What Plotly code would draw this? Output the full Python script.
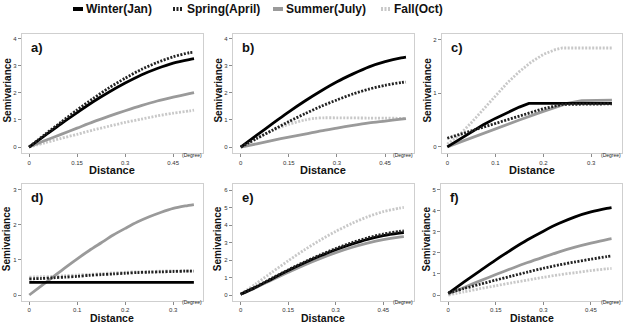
import plotly.graph_objects as go

# ---------------- data ----------------
series_names = ["Winter(Jan)", "Spring(April)", "Summer(July)", "Fall(Oct)"]

dist_long = [0, 0.05, 0.1, 0.15, 0.2, 0.25, 0.3, 0.35, 0.4, 0.45, 0.5, 0.515]

# panel a
winter_a = [0, 0.43, 0.86, 1.27, 1.67, 2.03, 2.36, 2.66, 2.90, 3.10, 3.23, 3.26]
spring_a = [0, 0.47, 0.92, 1.37, 1.79, 2.19, 2.54, 2.86, 3.12, 3.33, 3.48, 3.50]
summer_a = [0, 0.24, 0.47, 0.70, 0.93, 1.14, 1.34, 1.53, 1.70, 1.84, 1.97, 2.01]
fall_a = [0, 0.16, 0.32, 0.47, 0.63, 0.77, 0.91, 1.03, 1.15, 1.25, 1.33, 1.36]

# panel b
winter_b = [0, 0.44, 0.87, 1.30, 1.70, 2.07, 2.41, 2.70, 2.96, 3.15, 3.29, 3.32]
spring_b = [0, 0.32, 0.63, 0.94, 1.23, 1.50, 1.74, 1.96, 2.14, 2.28, 2.38, 2.40]
summer_b = [0, 0.12, 0.25, 0.37, 0.48, 0.60, 0.70, 0.80, 0.89, 0.96, 1.03, 1.05]
fall_b_x = [0, 0.05, 0.1, 0.15, 0.2, 0.23, 0.26, 0.3, 0.4, 0.515]
fall_b = [0, 0.32, 0.61, 0.84, 1.00, 1.06, 1.08, 1.08, 1.07, 1.06]

# panel c
winter_c_x = [0, 0.025, 0.05, 0.075, 0.1, 0.125, 0.15, 0.17, 0.343]
winter_c = [0, 0.14, 0.28, 0.41, 0.53, 0.64, 0.74, 0.81, 0.81]
spring_c_x = [0, 0.05, 0.1, 0.15, 0.2, 0.24, 0.343]
spring_c = [0.16, 0.30, 0.44, 0.58, 0.71, 0.79, 0.80]
summer_c_x = [0, 0.05, 0.1, 0.15, 0.2, 0.25, 0.28, 0.343]
summer_c = [0, 0.17, 0.34, 0.50, 0.66, 0.81, 0.86, 0.87]
fall_c_x = [0, 0.025, 0.05, 0.075, 0.1, 0.125, 0.15, 0.175, 0.2, 0.225, 0.24, 0.343]
fall_c = [0.05, 0.22, 0.45, 0.70, 0.95, 1.19, 1.40, 1.58, 1.72, 1.81, 1.84, 1.84]

# panel d
dist_d = [0, 0.025, 0.05, 0.075, 0.1, 0.125, 0.15, 0.175, 0.2, 0.225, 0.25, 0.275, 0.3, 0.325, 0.343]
winter_d = [0.36] * 15
spring_d = [0.46, 0.47, 0.49, 0.51, 0.53, 0.56, 0.58, 0.60, 0.62, 0.64, 0.65, 0.66, 0.67, 0.68, 0.68]
summer_d = [0, 0.26, 0.52, 0.78, 1.03, 1.27, 1.49, 1.71, 1.90, 2.08, 2.23, 2.36, 2.47, 2.54, 2.58]
fall_d = [0.51, 0.52, 0.53, 0.55, 0.57, 0.59, 0.61, 0.63, 0.65, 0.66, 0.67, 0.68, 0.69, 0.69, 0.69]

# panel e
winter_e = [0.05, 0.47, 0.94, 1.40, 1.83, 2.23, 2.59, 2.91, 3.19, 3.40, 3.54, 3.57]
spring_e = [0.05, 0.49, 0.97, 1.44, 1.88, 2.29, 2.66, 2.99, 3.27, 3.49, 3.64, 3.67]
summer_e = [0.05, 0.44, 0.88, 1.30, 1.71, 2.08, 2.42, 2.72, 2.97, 3.17, 3.31, 3.34]
fall_e = [0.05, 0.67, 1.32, 1.96, 2.57, 3.13, 3.64, 4.09, 4.47, 4.77, 4.97, 5.01]

# panel f
winter_f = [0.08, 0.62, 1.15, 1.67, 2.16, 2.62, 3.03, 3.40, 3.71, 3.94, 4.11, 4.15]
spring_f = [0.10, 0.31, 0.51, 0.71, 0.90, 1.09, 1.27, 1.43, 1.57, 1.70, 1.82, 1.85]
summer_f = [0.05, 0.36, 0.67, 0.97, 1.26, 1.54, 1.80, 2.05, 2.27, 2.46, 2.63, 2.67]
fall_f = [0, 0.15, 0.30, 0.44, 0.58, 0.71, 0.84, 0.96, 1.06, 1.16, 1.24, 1.26]

panel_labels = ["a)", "b)", "c)", "d)", "e)", "f)"]
xticks_wide = [0, 0.15, 0.3, 0.45]
xticks_wide_text = ["0", "0.15", "0.3", "0.45"]
xticks_narrow = [0, 0.1, 0.2, 0.3]
xticks_narrow_text = ["0", "0.1", "0.2", "0.3"]
yticks_a = [0, 1, 2, 3, 4]
yticks_b = [0, 1, 2, 3, 4]
yticks_c = [0, 1, 2]
yticks_d = [0, 1, 2, 3]
yticks_e = [0, 1, 2, 3, 4, 5, 6]
yticks_f = [0, 1, 2, 3, 4, 5]

# ---------------- styles ----------------
W, H = 625, 324
styles = {
    "Winter(Jan)": dict(color="#000000", width=2.8, dash="solid"),
    "Spring(April)": dict(color="#222222", width=2.8, dash="2px,1.5px"),
    "Summer(July)": dict(color="#9a9a9a", width=2.8, dash="solid"),
    "Fall(Oct)": dict(color="#c8c8c8", width=2.8, dash="2px,1.5px"),
}

R2T, R2B = 183.5, 300.5
panels = [
    dict(series=[(dist_long, winter_a), (dist_long, spring_a), (dist_long, summer_a), (dist_long, fall_a)],
         box=(21.7, 203, 33.5, 153.3), xr=[-0.023, 0.543], yr=[-0.23, 4.19],
         xt=xticks_wide, xtt=xticks_wide_text, yt=yticks_a, shape="spline"),
    dict(series=[(dist_long, winter_b), (dist_long, spring_b), (dist_long, summer_b), (fall_b_x, fall_b)],
         box=(232.7, 414, 33.5, 153.3), xr=[-0.025, 0.54], yr=[-0.23, 4.19],
         xt=xticks_wide, xtt=xticks_wide_text, yt=yticks_b, shape="spline"),
    dict(series=[(winter_c_x, winter_c), (spring_c_x, spring_c), (summer_c_x, summer_c), (fall_c_x, fall_c)],
         box=(441.7, 622, 33.5, 153.3), xr=[-0.0117, 0.364], yr=[-0.12, 2.11],
         xt=xticks_narrow, xtt=xticks_narrow_text, yt=yticks_c, shape="linear"),
    dict(series=[(dist_d, winter_d), (dist_d, spring_d), (dist_d, summer_d), (dist_d, fall_d)],
         box=(21.7, 203, R2T, R2B), xr=[-0.0158, 0.362], yr=[-0.157, 3.18],
         xt=xticks_narrow, xtt=xticks_narrow_text, yt=yticks_d, shape="spline"),
    dict(series=[(dist_long, winter_e), (dist_long, spring_e), (dist_long, summer_e), (dist_long, fall_e)],
         box=(232.7, 414, R2T, R2B), xr=[-0.025, 0.547], yr=[-0.31, 6.38],
         xt=xticks_wide, xtt=xticks_wide_text, yt=yticks_e, shape="spline"),
    dict(series=[(dist_long, winter_f), (dist_long, spring_f), (dist_long, summer_f), (dist_long, fall_f)],
         box=(441, 622, R2T, R2B), xr=[-0.023, 0.548], yr=[-0.26, 5.29],
         xt=xticks_wide, xtt=xticks_wide_text, yt=yticks_f, shape="spline"),
]

FONT = "Liberation Sans, Arial, sans-serif"
fig = go.Figure()
layout = dict(width=W, height=H, margin=dict(l=0, r=0, t=0, b=0),
              paper_bgcolor="white", plot_bgcolor="white", showlegend=False,
              hovermode=False, font=dict(family=FONT, color="#222"))
annotations = []
shapes = []

draw_order = [3, 2, 0, 1]  # fall, summer, winter, spring
for i, p in enumerate(panels):
    n = "" if i == 0 else str(i + 1)
    xa, ya = "x" + n, "y" + n
    for k in draw_order:
        name = series_names[k]
        xs, ys = p["series"][k]
        st = styles[name]
        fig.add_trace(go.Scatter(
            x=xs, y=ys, mode="lines", name=name, xaxis=xa, yaxis=ya,
            line=dict(color=st["color"], width=st["width"], dash=st["dash"],
                      shape=p["shape"], smoothing=0.8),
            cliponaxis=True))
    l, r, t, b = p["box"]
    axis_common = dict(showline=True, mirror=True, linecolor="#cfcfcf", linewidth=1,
                       ticks="outside", ticklen=3, tickwidth=1, tickcolor="#8a8a8a",
                       showgrid=False, zeroline=False,
                       tickfont=dict(size=6, family=FONT, color="#333"))
    layout["xaxis" + n] = dict(domain=[l / W, r / W], range=p["xr"], anchor=ya,
                               tickvals=p["xt"], ticktext=p["xtt"], **axis_common)
    layout["yaxis" + n] = dict(domain=[1 - b / H, 1 - t / H], range=p["yr"], anchor=xa,
                               tickvals=p["yt"], **axis_common)
    # panel label
    annotations.append(dict(text="<b>%s</b>" % panel_labels[i], xref="paper", yref="paper",
                            x=(l + 7) / W, y=1 - (t + 14) / H, xanchor="left", yanchor="middle",
                            showarrow=False, font=dict(size=13, family=FONT, color="#111")))
    # Semivariance
    annotations.append(dict(text="<b>Semivariance</b>", xref="paper", yref="paper",
                            x=(l - 14.5) / W, y=1 - ((t + b) / 2 - 3) / H, textangle=-90,
                            xanchor="center", yanchor="middle", showarrow=False,
                            font=dict(size=10, family=FONT, color="#111")))
    # Distance
    if i < 3:
        dist_y, dist_size = b + 16.5, 11
    else:
        dist_y, dist_size = 317.5, 10.5
    annotations.append(dict(text="<b>Distance</b>", xref="paper", yref="paper",
                            x=((l + r) / 2) / W, y=1 - dist_y / H,
                            xanchor="center", yanchor="middle", showarrow=False,
                            font=dict(size=dist_size, family=FONT, color="#111")))
    # (Degree)
    annotations.append(dict(text="(Degree)", xref="paper", yref="paper",
                            x=(r + 1) / W, y=1 - (b + 1.5) / H,
                            xanchor="right", yanchor="middle", showarrow=False,
                            font=dict(size=5, family=FONT, color="#222")))

# custom legend
legend_sym_x = [73, 173, 273, 381]
legend_txt_x = [84, 185, 284, 392]
ly = 1 - 9 / H
for k, name in enumerate(series_names):
    st = styles[name]
    shapes.append(dict(type="line", xref="paper", yref="paper",
                       x0=legend_sym_x[k] / W, x1=(legend_sym_x[k] + 10) / W, y0=ly, y1=ly,
                       line=dict(color=st["color"], width=4,
                                 dash="solid" if st["dash"] == "solid" else "2px,1.5px")))
    annotations.append(dict(text="<b>%s</b>" % name, xref="paper", yref="paper",
                            x=legend_txt_x[k] / W, y=ly, xanchor="left", yanchor="middle",
                            showarrow=False, font=dict(size=12, family=FONT, color="#111")))

layout["annotations"] = annotations
layout["shapes"] = shapes
fig.update_layout(**layout)
fig.write_html("out.html")
